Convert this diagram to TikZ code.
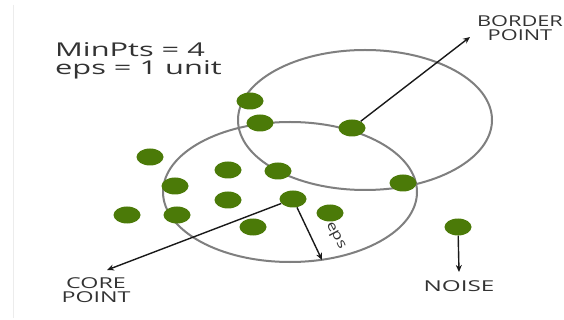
\documentclass[tikz,border=0pt]{standalone}
\usepackage{fontspec}
\setmainfont{Open Sans}
\usetikzlibrary{shapes.geometric,arrows.meta}
\definecolor{dotgreen}{HTML}{4B7A08}
\definecolor{ringgray}{HTML}{7F7F7F}
\definecolor{txtgray}{HTML}{333333}
\newcommand\wideit[1]{\scalebox{1.55}[1]{#1}}
\tikzset{
  dot/.style={ellipse, fill=dotgreen, draw=none, minimum width=27pt, minimum height=17pt, inner sep=0pt},
  ring/.style={draw=ringgray, line width=2pt},
  pointer/.style={draw=black!90, line width=1.4pt, -{Stealth[length=7pt,width=6pt]}},
  lbl/.style={text=txtgray, inner sep=0pt, font=\fontsize{15}{13}\selectfont},
}
\begin{document}
\begin{tikzpicture}[x=1pt,y=-1pt]
\useasboundingbox (0,0) rectangle (564,320);
\fill[white] (0,0) rectangle (564,320);
\draw[gray!15, line width=1pt] (13.5,5) -- (13.5,318);

% rings
\draw[ring] (290,192) ellipse [x radius=127pt, y radius=70pt];
\draw[ring] (365,120) ellipse [x radius=127pt, y radius=70pt];

% parameters
\node[lbl, anchor=base west, font=\fontsize{19}{19}\selectfont] (minpts) at (55,57) {\scalebox{1.62}[1]{MinPts = 4}};
\node[lbl, anchor=base west, font=\fontsize{19}{19}\selectfont] (epsval) at (55,75) {\scalebox{1.62}[1]{eps = 1 unit}};

% dots
\node[dot] (d1) at (250,101) {};
\node[dot] (d2) at (260,123) {};
\node[dot] (bp) at (352,128) {};
\node[dot] (d4) at (150,157) {};
\node[dot] (d5) at (228,170) {};
\node[dot] (d6) at (278,171) {};
\node[dot] (d7) at (175,186) {};
\node[dot] (d8) at (403,183) {};
\node[dot] (d9) at (228,200) {};
\node[dot] (cp) at (293,199) {};
\node[dot] (d11) at (127,215) {};
\node[dot] (d12) at (177,215) {};
\node[dot] (d13) at (330,213) {};
\node[dot] (d14) at (253,227) {};
\node[dot] (np) at (458,227) {};

% arrow ends
\coordinate (bend) at (470,37);
\coordinate (cend) at (107,270);
\coordinate (eend) at (322,260);
\coordinate (nend) at (459,272);

\draw[pointer] (bp) -- (bend);
\draw[pointer] (cp) -- (cend);
\draw[pointer] (cp) -- (eend);
\draw[pointer] (np) -- (nend);

% labels
\node[lbl, font=\fontsize{15}{12.5}\selectfont] (border) at (520,30) {\scalebox{1.45}[1]{\begin{tabular}{@{}c@{}}BORDER\\POINT\end{tabular}}};
\node[lbl] (core) at (96,292) {\wideit{\begin{tabular}{@{}c@{}}CORE\\POINT\end{tabular}}};
\node[lbl] (noise) at (459,286) {\scalebox{1.62}[1]{NOISE}};
\node[lbl, rotate=-62, font=\fontsize{13.5}{13.5}\selectfont] (epslbl) at (335,236) {\scalebox{1.3}[1]{eps}};
\end{tikzpicture}
\end{document}
